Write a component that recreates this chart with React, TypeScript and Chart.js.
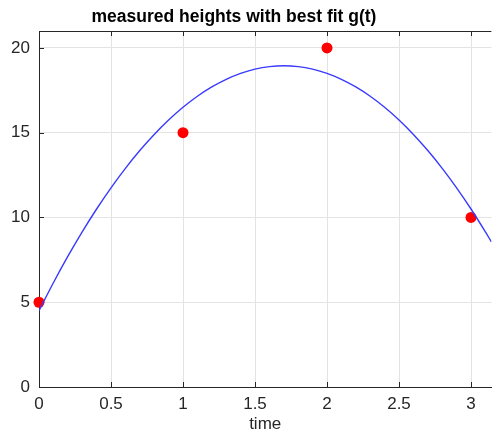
import { useEffect, useRef } from "react";
import { Chart, registerables } from "chart.js";

Chart.register(...registerables);

// measured data
const measuredTimes = [0, 1, 2, 3];
const measuredHeights = [5, 15, 20, 10];

// best fit curve g(t)
const fitTimes = [
  0, 0.1, 0.2, 0.3, 0.4, 0.5, 0.6, 0.7, 0.8, 0.9, 1.0, 1.1, 1.2, 1.3, 1.4, 1.5,
  1.6, 1.7, 1.8, 1.9, 2.0, 2.1, 2.2, 2.3, 2.4, 2.5, 2.6, 2.7, 2.8, 2.9, 3.0, 3.1, 3.1416,
];
const fitHeights = [
  4.5, 6.15, 7.7, 9.15, 10.5, 11.75, 12.9, 13.95, 14.9, 15.75, 16.5, 17.15, 17.7, 18.15, 18.5, 18.75,
  18.9, 18.95, 18.9, 18.75, 18.5, 18.15, 17.7, 17.15, 16.5, 15.75, 14.9, 13.95, 12.9, 11.75, 10.5, 9.15, 8.56,
];

const xTicks = [0, 0.5, 1, 1.5, 2, 2.5, 3];
const yTicks = [0, 5, 10, 15, 20];
const xRange = [0, 3.1416];
const yRange = [0, 21];

const titleText = "measured heights with best fit g(t)";
const xLabel = "time";

const FONT = "'Liberation Sans', Arial, Helvetica, sans-serif";
const AXIS_COLOR = "#262626";
const GRID_COLOR = "#e3e3e3";

export default function App() {
  const canvasRef = useRef<HTMLCanvasElement | null>(null);

  useEffect(() => {
    const canvas = canvasRef.current;
    if (!canvas) return;

    const framePlugin = {
      id: "frame",
      beforeDatasetsDraw(chart: any) {
        const { ctx, chartArea } = chart;
        const xs = chart.scales.x;
        const ys = chart.scales.y;
        const len = 5;
        ctx.save();
        ctx.strokeStyle = AXIS_COLOR;
        ctx.lineWidth = 1;
        ctx.beginPath();
        // top border
        ctx.moveTo(chartArea.left, Math.round(chartArea.top) + 0.5);
        ctx.lineTo(chartArea.right, Math.round(chartArea.top) + 0.5);
        xs.ticks.forEach((t: any) => {
          const px = Math.round(xs.getPixelForValue(t.value)) + 0.5;
          ctx.moveTo(px, chartArea.bottom);
          ctx.lineTo(px, chartArea.bottom - len);
          ctx.moveTo(px, chartArea.top);
          ctx.lineTo(px, chartArea.top + len);
        });
        ys.ticks.forEach((t: any) => {
          const py = Math.round(ys.getPixelForValue(t.value)) + 0.5;
          ctx.moveTo(chartArea.left, py);
          ctx.lineTo(chartArea.left + len, py);
        });
        ctx.stroke();
        ctx.restore();
      },
      afterDraw(chart: any) {
        const { ctx } = chart;
        ctx.save();
        ctx.fillStyle = "#000";
        ctx.font = `bold 17.5px ${FONT}`;
        ctx.textAlign = "center";
        ctx.textBaseline = "alphabetic";
        ctx.fillText(titleText, 234, 22);
        ctx.restore();
      },
    };

    const chart = new Chart(canvas, {
      type: "scatter",
      data: {
        datasets: [
          {
            type: "line",
            label: "g(t)",
            data: fitTimes.map((t, i) => ({ x: t, y: fitHeights[i] })),
            borderColor: "#3a3aff",
            borderWidth: 1.4,
            pointRadius: 0,
            tension: 0.3,
            fill: false,
          } as any,
          {
            type: "scatter",
            label: "measured",
            data: measuredTimes.map((t, i) => ({ x: t, y: measuredHeights[i] })),
            backgroundColor: "#ff0000",
            borderColor: "#ff0000",
            borderWidth: 0,
            pointRadius: 5.5,
            clip: false,
          } as any,
        ],
      },
      options: {
        animation: false,
        responsive: false,
        maintainAspectRatio: false,
        layout: { autoPadding: false, padding: { top: 31, right: 0.6, left: 0, bottom: 0 } },
        plugins: {
          legend: { display: false },
          title: { display: false },
          tooltip: { enabled: false },
        },
        scales: {
          x: {
            type: "linear",
            min: xRange[0],
            max: xRange[1],
            afterBuildTicks: (scale: any) => {
              scale.ticks = xTicks.map((v) => ({ value: v }));
            },
            afterFit: (scale: any) => {
              scale.height = 46;
              scale.paddingLeft = 0;
              scale.paddingRight = 0;
            },
            grid: { color: GRID_COLOR, drawTicks: false, lineWidth: 1 },
            border: { display: true, color: AXIS_COLOR, width: 1 },
            ticks: {
              padding: 7,
              color: "#262626",
              font: { family: FONT, size: 17 },
              maxRotation: 0,
              callback: (v: any) => String(v),
            },
            title: {
              display: true,
              text: xLabel,
              color: "#262626",
              font: { family: FONT, size: 17, lineHeight: 1 },
              padding: { top: 0, bottom: 0 },
            },
          },
          y: {
            type: "linear",
            min: yRange[0],
            max: yRange[1],
            afterBuildTicks: (scale: any) => {
              scale.ticks = yTicks.map((v) => ({ value: v }));
            },
            afterFit: (scale: any) => {
              scale.width = 39;
              scale.paddingTop = 0;
              scale.paddingBottom = 0;
            },
            grid: { color: GRID_COLOR, drawTicks: false, lineWidth: 1 },
            border: { display: true, color: AXIS_COLOR, width: 1 },
            ticks: {
              padding: 9,
              color: "#262626",
              font: { family: FONT, size: 17 },
              callback: (v: any) => String(v),
            },
          },
        },
      },
      plugins: [framePlugin],
    });

    return () => chart.destroy();
  }, []);

  return (
    <div style={{ position: "fixed", left: 0, top: 0, width: 492, height: 433, background: "#fff" }}>
      <canvas ref={canvasRef} width={492} height={433} style={{ width: 492, height: 433 }} />
    </div>
  );
}
